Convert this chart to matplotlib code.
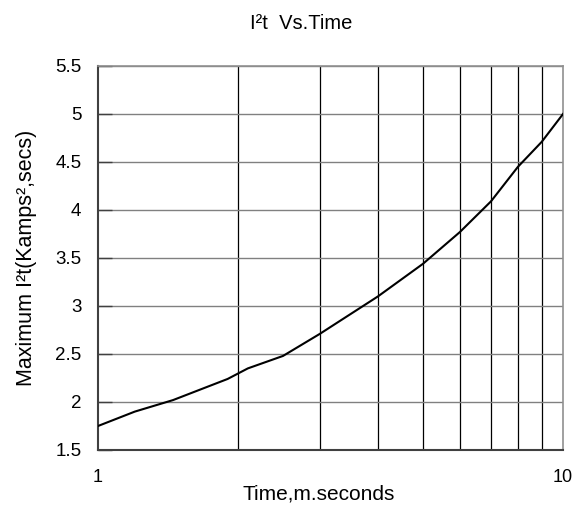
import matplotlib
matplotlib.use("Agg")
import matplotlib.pyplot as plt
from matplotlib.ticker import FixedLocator, NullFormatter, FixedFormatter

plt.rcParams['font.family'] = ['Liberation Sans', 'DejaVu Sans']

# I2t curve
time_ms = [1, 1.2, 1.45, 1.9, 2.1, 2.5, 3, 4, 5, 6, 7, 8, 9, 10]
i2t = [1.75, 1.90, 2.02, 2.24, 2.35, 2.48, 2.71, 3.10, 3.44, 3.77, 4.09, 4.45, 4.71, 5.0]

y_ticks = [1.5, 2, 2.5, 3, 3.5, 4, 4.5, 5, 5.5]
y_labels = ['1.5', '2', '2.5', '3', '3.5', '4', '4.5', '5', '5.5']

fig = plt.figure(figsize=(5.82, 5.05), dpi=100)
ax = fig.add_axes([98 / 582, 55 / 505, 465 / 582, 384 / 505])

ax.plot(time_ms, i2t, color='black', lw=1.5, zorder=3)

ax.set_xscale('log')
ax.set_xlim(1, 10)
ax.set_ylim(1.5, 5.5)

ax.xaxis.set_major_locator(FixedLocator([1, 10]))
ax.xaxis.set_major_formatter(FixedFormatter(['1', '10']))
ax.xaxis.set_minor_locator(FixedLocator([2, 3, 4, 5, 6, 7, 8, 9]))
ax.xaxis.set_minor_formatter(NullFormatter())
ax.yaxis.set_major_locator(FixedLocator(y_ticks))
ax.yaxis.set_major_formatter(FixedFormatter(y_labels))

ax.grid(True, which='minor', axis='x', color='black', lw=0.9)
ax.grid(True, which='major', axis='y', color='#808080', lw=1.0)

ax.tick_params(axis='x', which='both', length=0, pad=14, labelsize=13)
ax.tick_params(axis='y', direction='in', length=10, width=1, color='#404040',
               pad=12, labelsize=13.5)

for side in ['left', 'bottom']:
    ax.spines[side].set_color('#404040')
    ax.spines[side].set_linewidth(1.5)
for side in ['right', 'top']:
    ax.spines[side].set_color('#909090')
    ax.spines[side].set_linewidth(1.2)

fig.text(301 / 582, 1 - 29 / 505, 'I²t  Vs.Time', ha='center', va='baseline', fontsize=14.5)
fig.text(319 / 582, 1 - 499 / 505, 'Time,m.seconds', ha='center', va='baseline', fontsize=15)
fig.text(27 / 582, 1 - 258 / 505, 'Maximum I²t(Kamps²,secs)', ha='center', va='center',
         rotation=90, fontsize=15.5)

fig.savefig('out.png', dpi=100)
